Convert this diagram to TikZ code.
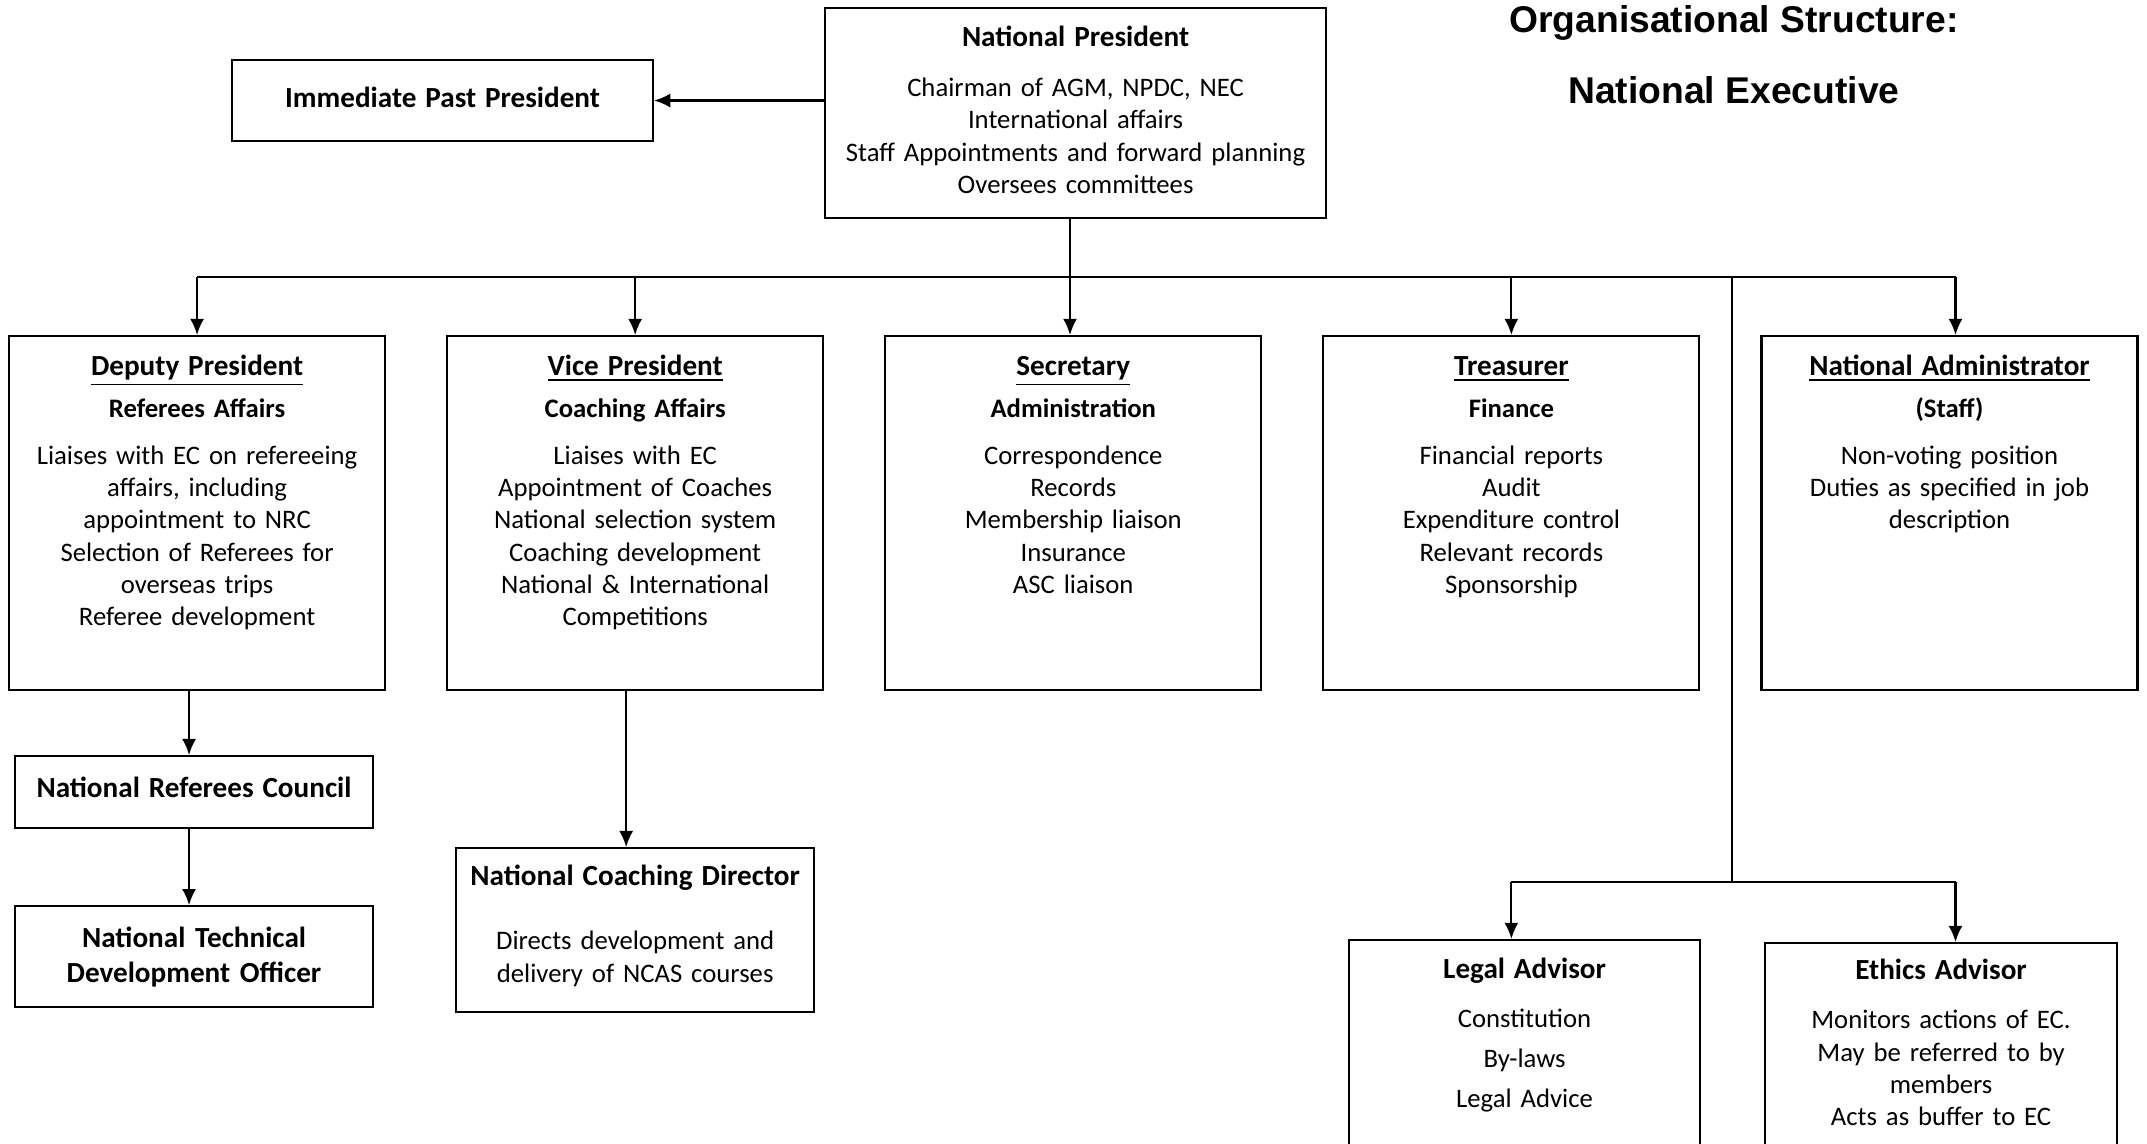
\documentclass[tikz,border=0pt]{standalone}
\usepackage{fontspec}
\setmainfont{Carlito}
\newfontfamily\titlefont{Liberation Sans}
\usetikzlibrary{positioning,arrows.meta}

\newcommand{\hd}[1]{{\fontsize{8.3pt}{9.2pt}\selectfont\bfseries #1}}
\newcommand{\uhd}[1]{\hd{\underline{#1}}}

\begin{document}
\begin{tikzpicture}[->,>={Latex[length=4.6pt,width=4pt]},line width=0.6pt,
                    node distance=0.60cm]
\tikzset{font=\fontsize{7.6pt}{9.2pt}\selectfont}
\tikzset{office/.style={draw,align=center,inner xsep=0.1cm,inner ysep=0pt},
         role/.style={office,text width=3.56cm,text height=0.39cm,text depth=3.15cm},
         advisor/.style={office,text height=0.38cm,text depth=2.8cm},
         heading/.style={font=\titlefont\fontsize{10.6pt}{12pt}\selectfont\bfseries}}

\useasboundingbox (0,0) rectangle (21.47,-11.44);
\clip (0,0) rectangle (21.47,-11.44);

        \node[heading] (ttl) at (17.34,-0.23) {Organisational Structure:};
        \node[heading] (sub) at (17.34,-0.90) {National Executive};

        \node[office,text width=4.81cm,text height=0.385cm,text depth=1.715cm,anchor=north west] (np) at (8.24,-0.07)
            {\hd{National President}\\[5pt]
             Chairman of AGM, NPDC, NEC\\
             International affairs\\
             Staff Appointments and forward planning\\
             Oversees committees};
        \node[office,text width=4.01cm,text height=0.47cm,text depth=0.34cm,anchor=north west] (ipp) at (2.31,-0.59)
            {\hd{Immediate Past President}};

        % executive row
        \node[role,anchor=north west] (dep) at (0.08,-3.35)
            {\uhd{Deputy President}\\[3pt]
             \textbf{Referees Affairs}\\[4pt]
             Liaises with EC on refereeing\\
             affairs, including\\
             appointment to NRC\\
             Selection of Referees for\\
             overseas trips\\
             Referee development};
        \node[role] (vp) [right=of dep]
            {\uhd{Vice President}\\[3pt]
             \textbf{Coaching Affairs}\\[4pt]
             Liaises with EC\\
             Appointment of Coaches\\
             National selection system\\
             Coaching development\\
             National \& International\\
             Competitions};
        \node[role] (sec) [right=of vp]
            {\uhd{Secretary}\\[3pt]
             \textbf{Administration}\\[4pt]
             Correspondence\\
             Records\\
             Membership liaison\\
             Insurance\\
             ASC liaison};
        \node[role] (tre) [right=of sec]
            {\uhd{Treasurer}\\[3pt]
             \textbf{Finance}\\[4pt]
             Financial reports\\
             Audit\\
             Expenditure control\\
             Relevant records\\
             Sponsorship};
        \node[role] (adm) [right=of tre]
            {\uhd{National Administrator}\\[3pt]
             \textbf{(Staff)}\\[4pt]
             Non-voting position\\
             Duties as specified in job\\
             description};

        \node[office,text width=3.38cm,text height=0.41cm,text depth=0.31cm] (nrc) [below=0.64cm of dep,xshift=-0.03cm]
            {\hd{National Referees Council}};
        \node[office,text width=3.38cm,minimum height=1.01cm,font=\fontsize{8.3pt}{10pt}\selectfont\bfseries] (ntdo) [below=0.76cm of nrc]
            {National Technical\\ Development Officer\\[2pt]};
        \node[office,text width=3.38cm,text height=0.37cm,text depth=1.27cm] (ncd) [below=1.56cm of vp]
            {\hd{National Coaching Director}\\[9.2pt]
             Directs development and\\
             delivery of NCAS courses};

        \node[advisor,text width=3.31cm,anchor=north west] (legal) at (13.48,-9.39)
            {\hd{Legal Advisor}\\[5pt]
             Constitution\\[2.1pt]
             By-laws\\[2.1pt]
             Legal Advice};
        \node[advisor,text width=3.32cm,text height=0.36cm,anchor=north west] (ethics) at (17.64,-9.42)
            {\hd{Ethics Advisor}\\[5pt]
             Monitors actions of EC.\\
             May be referred to by\\
             members\\
             Acts as buffer to EC};

        \coordinate (bus) at (0,-2.77);
        \coordinate (drop) at (10.70,-2.77);
        \coordinate (fork) at (17.32,-8.82);

        \draw[-] (dep.north |- bus) -- ([xshift=0.06cm]adm.north |- bus);
        \draw[-,line width=0.4pt] (fork |- bus) -- (fork);
        \draw[-] (tre.north |- fork) -- ([xshift=0.06cm]adm.north |- fork);

        \path[->]
        (np.west |- ipp.east)    edge (ipp.east)
        (drop |- np.south)       edge (drop |- sec.north)
        (dep.north |- bus)       edge (dep.north)
        (vp.north |- bus)        edge (vp.north)
        (tre.north |- bus)       edge (tre.north)
        ([xshift=0.06cm]adm.north |- bus) edge ([xshift=0.06cm]adm.north)
        ([xshift=-0.05cm]nrc.north |- dep.south) edge ([xshift=-0.05cm]nrc.north)
        ([xshift=-0.05cm]nrc.south)              edge ([xshift=-0.05cm]ntdo.north)
        ([xshift=-0.09cm]vp.south)               edge ([xshift=-0.09cm]vp.south |- ncd.north)
        (tre.north |- fork)      edge (tre.north |- legal.north)
        ([xshift=0.06cm]adm.north |- fork) edge ([xshift=0.06cm]adm.north |- ethics.north)
        ; %end path

\end{tikzpicture}
\end{document}
